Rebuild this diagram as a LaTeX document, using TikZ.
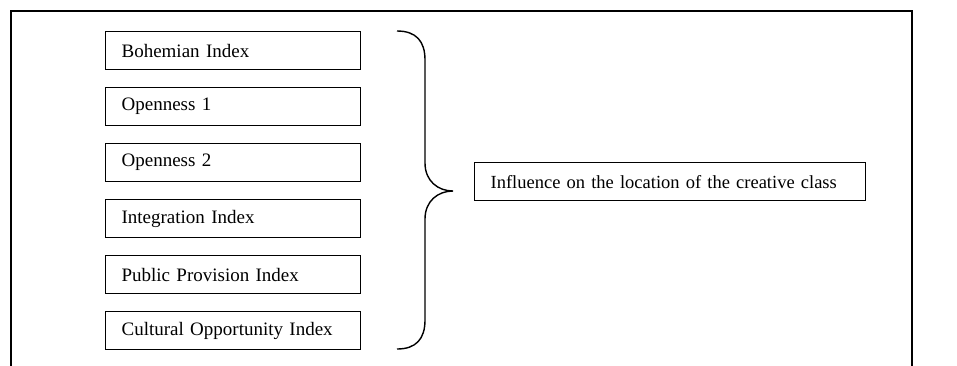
\documentclass[tikz,border=0pt]{standalone}
\usepackage{fontspec}
\setmainfont{Liberation Serif}
\begin{document}
\begin{tikzpicture}[x=1pt,y=-1pt,
  factor/.style={draw, line width=1.2pt, anchor=north west, minimum height=38pt,
    text width=223pt, inner xsep=16pt, align=left,
    font=\fontsize{19}{22}\selectfont},
  outcome/.style={factor, text width=359pt, font=\fontsize{18.5}{22}\selectfont},
  brace/.style={line width=1.4pt},
  frame/.style={line width=1.2pt}]
\useasboundingbox (0,0) rectangle (957,365);
\clip (0,0) rectangle (957,365);
% outer frame, open at the bottom
\draw[frame] (11,368) -- (11,11) -- (912,11) -- (912,368);
% factor boxes
\node[factor] (bohemian) at (105,31)  {Bohemian Index};
\node[factor] (open1)    at (105,87)  {Openness 1};
\node[factor] (open2)    at (105,143) {Openness 2};
\node[factor] (integ)    at (105,199) {Integration Index};
\node[factor] (public)   at (105,255) {Public Provision Index};
\node[factor] (culture)  at (105,311) {Cultural Opportunity Index};
% result box
\node[outcome] (influence) at (474,162) {Influence on the location of the creative class};
% curly brace grouping the factors
\coordinate (btop) at (397,31);
\coordinate (bmid) at (453,191);
\coordinate (bbot) at (397,349);
\draw[brace] (btop) .. controls (416,31) and (425,41) .. (425,60)
  -- (425,163) .. controls (425,181) and (438,191) .. (bmid)
  .. controls (438,191) and (425,201) .. (425,219)
  -- (425,320) .. controls (425,339) and (416,349) .. (bbot);
\end{tikzpicture}
\end{document}
